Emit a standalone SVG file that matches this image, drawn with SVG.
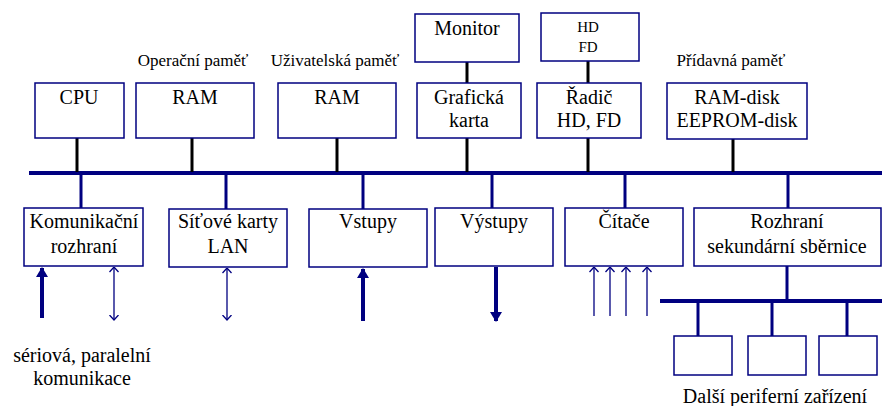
<svg xmlns="http://www.w3.org/2000/svg" width="882" height="406" viewBox="0 0 882 406">
<defs>
<style>
.box{fill:#fff;stroke:#000080;stroke-width:1.5}
.bus{stroke:#000080;stroke-width:4;fill:none}
.bk{stroke:#000;stroke-width:3;fill:none}
.bl{stroke:#000080;stroke-width:3;fill:none}
.thick{stroke:#000080;stroke-width:4;fill:none}
.thin{stroke:#000080;stroke-width:1.3;fill:none}
</style>
<marker id="fh" viewBox="0 0 10 12" refX="9" refY="6" markerWidth="10" markerHeight="12" orient="auto" markerUnits="userSpaceOnUse">
<path d="M0,0 L10,6 L0,12 Z" fill="#000080"/>
</marker>
<marker id="oh" viewBox="0 0 6 10" refX="5.5" refY="5" markerWidth="6" markerHeight="10" orient="auto" markerUnits="userSpaceOnUse">
<path d="M0.5,0.5 L5.5,5 L0.5,9.5" fill="none" stroke="#000080" stroke-width="1.3"/>
</marker>
<marker id="ohs" viewBox="0 0 6 10" refX="5.5" refY="5" markerWidth="6" markerHeight="10" orient="auto-start-reverse" markerUnits="userSpaceOnUse">
<path d="M0.5,0.5 L5.5,5 L0.5,9.5" fill="none" stroke="#000080" stroke-width="1.3"/>
</marker>
</defs>
<rect width="882" height="406" fill="#fff"/>

<g id="connectors">
<line class="bus" x1="29" y1="173" x2="882" y2="173"/>
<line class="bk" x1="77" y1="138" x2="77" y2="172"/>
<line class="bk" x1="192" y1="138" x2="192" y2="172"/>
<line class="bk" x1="337" y1="138" x2="337" y2="172"/>
<line class="bk" x1="467" y1="62" x2="467" y2="83"/>
<line class="bk" x1="467" y1="138" x2="467" y2="172"/>
<line class="bk" x1="588" y1="61" x2="588" y2="83"/>
<line class="bk" x1="588" y1="138" x2="588" y2="172"/>
<line class="bk" x1="733" y1="139" x2="733" y2="172"/>
<line class="bl" x1="81" y1="174" x2="81" y2="208"/>
<line class="bl" x1="226" y1="174" x2="226" y2="209"/>
<line class="bl" x1="363" y1="174" x2="363" y2="209"/>
<line class="bl" x1="492" y1="174" x2="492" y2="208"/>
<line class="bl" x1="625" y1="174" x2="625" y2="208"/>
<line class="bl" x1="788" y1="174" x2="788" y2="208"/>
<line class="bl" x1="787" y1="266" x2="787" y2="300"/>
<line class="bus" x1="660" y1="301" x2="882" y2="301"/>
<line class="bl" x1="698" y1="302" x2="698" y2="336"/>
<line class="bl" x1="772" y1="302" x2="772" y2="336"/>
<line class="bl" x1="847" y1="302" x2="847" y2="336"/>
<line class="thick" x1="42" y1="318" x2="42" y2="268" marker-end="url(#fh)"/>
<line class="thin" x1="114" y1="320" x2="114" y2="267" marker-start="url(#ohs)" marker-end="url(#oh)"/>
<line class="thin" x1="227" y1="320" x2="227" y2="268" marker-start="url(#ohs)" marker-end="url(#oh)"/>
<line class="thick" x1="363" y1="321" x2="363" y2="269" marker-end="url(#fh)"/>
<line class="thick" x1="496" y1="267" x2="496" y2="321" marker-end="url(#fh)"/>
<line class="thin" x1="594" y1="316" x2="594" y2="267" marker-end="url(#oh)"/>
<line class="thin" x1="610" y1="316" x2="610" y2="267" marker-end="url(#oh)"/>
<line class="thin" x1="626" y1="316" x2="626" y2="267" marker-end="url(#oh)"/>
<line class="thin" x1="647" y1="316" x2="647" y2="267" marker-end="url(#oh)"/>
</g>

<g font-family="Liberation Serif, Times New Roman, serif" fill="#000" text-anchor="middle">
<g font-size="17">
<text x="193" y="66">Operační paměť</text>
<text x="335" y="66">Uživatelská paměť</text>
<text x="731" y="66">Přídavná paměť</text>
</g>
<g font-size="20">
<g id="cpu"><rect class="box" x="35" y="83" width="89" height="55"/><text x="79" y="104">CPU</text></g>
<g id="ram1"><rect class="box" x="136" y="83" width="118" height="55"/><text x="195" y="104">RAM</text></g>
<g id="ram2"><rect class="box" x="278" y="83" width="118" height="55"/><text x="337" y="104">RAM</text></g>
<g id="monitor"><rect class="box" x="415" y="14" width="104" height="48"/><text x="467" y="35">Monitor</text></g>
<g id="graficka"><rect class="box" x="417" y="83" width="104" height="55"/><text x="469" y="104">Grafická</text><text x="469" y="127">karta</text></g>
<g id="hdfd" font-size="15"><rect class="box" x="541" y="13" width="98" height="48"/><text x="588" y="32">HD</text><text x="588" y="52">FD</text></g>
<g id="radic"><rect class="box" x="537" y="83" width="104" height="55"/><text x="589" y="104">Řadič</text><text x="589" y="127">HD, FD</text></g>
<g id="ramdisk"><rect class="box" x="667" y="83" width="140" height="56"/><text x="737" y="104">RAM-disk</text><text x="737" y="127">EEPROM-disk</text></g>

<g id="komunikacni"><rect class="box" x="24" y="208" width="119" height="58"/><text x="84" y="228">Komunikační</text><text x="84" y="253">rozhraní</text></g>
<g id="sitove"><rect class="box" x="169" y="209" width="118" height="58"/><text x="228" y="228">Síťové karty</text><text x="228" y="253">LAN</text></g>
<g id="vstupy"><rect class="box" x="309" y="209" width="118" height="58"/><text x="368" y="228">Vstupy</text></g>
<g id="vystupy"><rect class="box" x="435" y="208" width="118" height="58"/><text x="494" y="228">Výstupy</text></g>
<g id="citace"><rect class="box" x="565" y="208" width="118" height="58"/><text x="624" y="228">Čítače</text></g>
<g id="rozhrani"><rect class="box" x="694" y="208" width="187" height="58"/><text x="787" y="228">Rozhraní</text><text x="787" y="253">sekundární sběrnice</text></g>

<text x="82" y="362">sériová, paralelní</text>
<text x="82" y="385">komunikace</text>
<text x="775" y="403">Další periferní zařízení</text>
</g>
<g id="p1"><rect class="box" x="674" y="336" width="58" height="39"/></g>
<g id="p2"><rect class="box" x="748" y="336" width="58" height="39"/></g>
<g id="p3"><rect class="box" x="819" y="336" width="58" height="39"/></g>
</g>
</svg>
